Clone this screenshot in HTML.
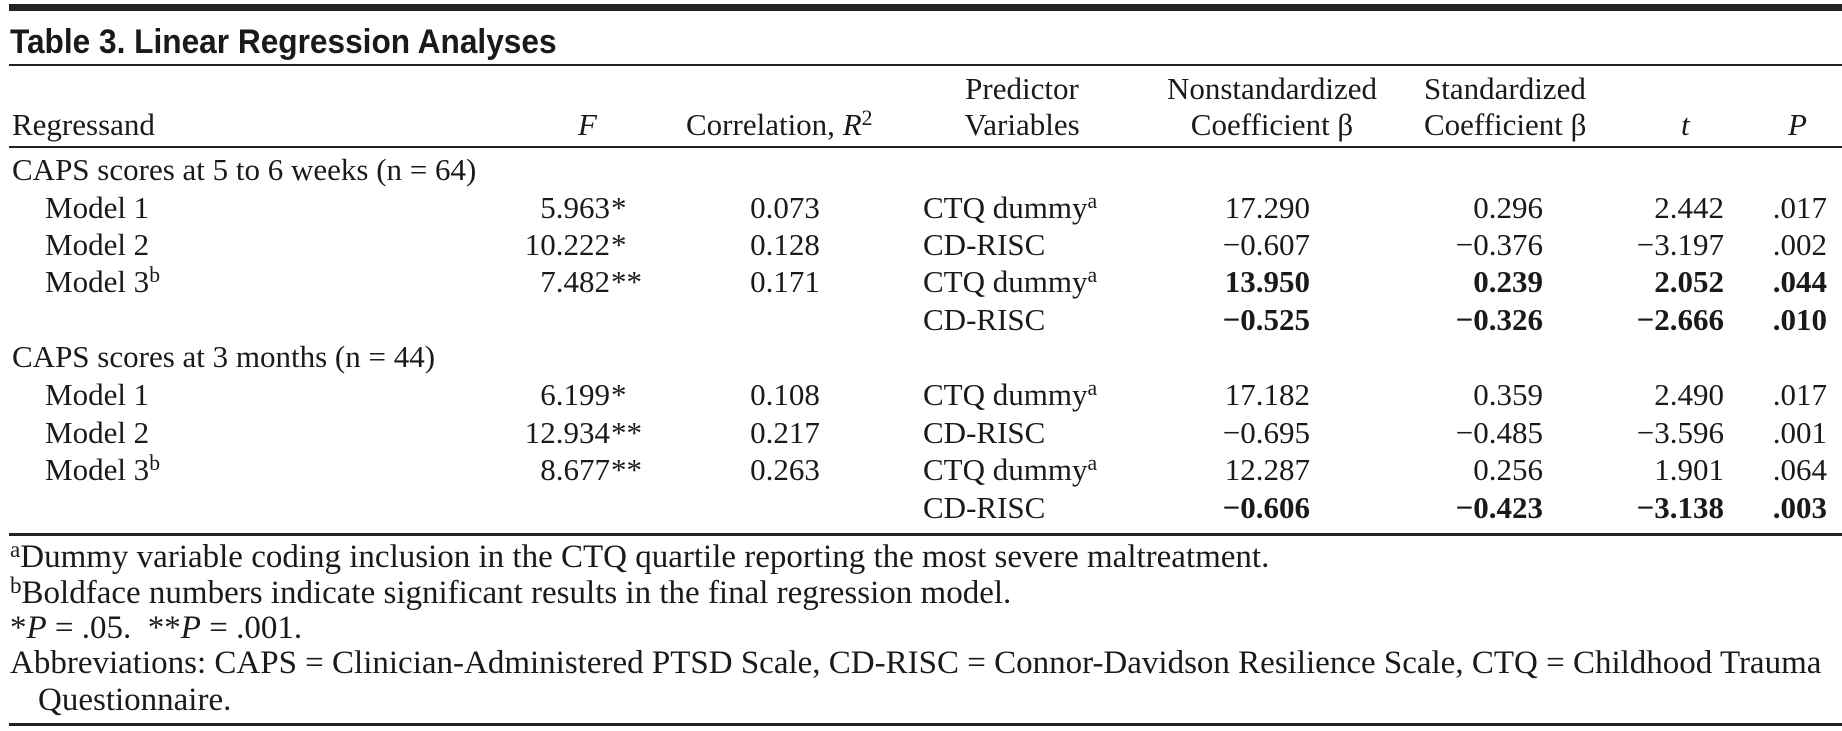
<!DOCTYPE html>
<html><head><meta charset="utf-8"><style>
html,body{margin:0;padding:0;background:#fff;}
body{width:1842px;height:731px;position:relative;overflow:hidden;font-family:"Liberation Serif",serif;font-size:31px;color:#1a1a1a;}
.t{position:absolute;line-height:0;white-space:nowrap;}
.r{text-align:right;}
.c{text-align:center;}
.b{font-weight:bold;}
.rule{position:absolute;left:9px;right:0;background:#222;}
sup{font-size:0.7em;vertical-align:0;position:relative;top:-0.45em;}
.title{font-family:"Liberation Sans",sans-serif;font-weight:bold;font-size:34px;transform:scaleX(0.93);transform-origin:left center;}
.fn{font-size:33px;}
</style></head><body>
<div class="rule" style="top:4px;height:7px;"></div>
<div class="t title" style="left:10px;top:42px;">Table 3. Linear Regression Analyses</div>
<div class="rule" style="top:64px;height:2px;"></div>

<div class="t" style="left:12px;top:125px;">Regressand</div>
<div class="t" style="left:578px;top:125px;font-style:italic;">F</div>
<div class="t" style="left:686px;top:125px;">Correlation, <i>R</i><sup>2</sup></div>
<div class="t c" style="left:962px;width:120px;top:89px;">Predictor</div>
<div class="t c" style="left:962px;width:120px;top:125px;">Variables</div>
<div class="t c" style="left:1152px;width:240px;top:89px;">Nonstandardized</div>
<div class="t c" style="left:1152px;width:240px;top:125px;">Coefficient β</div>
<div class="t" style="left:1424px;top:89px;">Standardized</div>
<div class="t" style="left:1424px;top:125px;">Coefficient β</div>
<div class="t" style="left:1681px;top:125px;font-style:italic;">t</div>
<div class="t" style="left:1788px;top:125px;font-style:italic;">P</div>
<div class="rule" style="top:146px;height:2px;"></div>

<div class="t" style="left:12px;top:170px;">CAPS scores at 5 to 6 weeks (n = 64)</div>

<div class="t" style="left:45px;top:208px;">Model 1</div>
<div class="t" style="left:45px;top:245px;">Model 2</div>
<div class="t" style="left:45px;top:282px;">Model 3<sup>b</sup></div>
<div class="t r" style="right:1232px;top:208px;">5.963</div><div class="t" style="left:611px;top:208px;">*</div>
<div class="t r" style="right:1232px;top:245px;">10.222</div><div class="t" style="left:611px;top:245px;">*</div>
<div class="t r" style="right:1232px;top:282px;">7.482</div><div class="t" style="left:611px;top:282px;">**</div>
<div class="t c" style="left:735px;width:100px;top:208px;">0.073</div>
<div class="t c" style="left:735px;width:100px;top:245px;">0.128</div>
<div class="t c" style="left:735px;width:100px;top:282px;">0.171</div>
<div class="t" style="left:923px;top:208px;">CTQ dummy<sup>a</sup></div>
<div class="t" style="left:923px;top:245px;">CD-RISC</div>
<div class="t" style="left:923px;top:282px;">CTQ dummy<sup>a</sup></div>
<div class="t" style="left:923px;top:320px;">CD-RISC</div>
<div class="t r" style="right:532px;top:208px;">17.290</div>
<div class="t r" style="right:532px;top:245px;">−0.607</div>
<div class="t r b" style="right:532px;top:282px;">13.950</div>
<div class="t r b" style="right:532px;top:320px;">−0.525</div>
<div class="t r" style="right:299px;top:208px;">0.296</div>
<div class="t r" style="right:299px;top:245px;">−0.376</div>
<div class="t r b" style="right:299px;top:282px;">0.239</div>
<div class="t r b" style="right:299px;top:320px;">−0.326</div>
<div class="t r" style="right:118px;top:208px;">2.442</div>
<div class="t r" style="right:118px;top:245px;">−3.197</div>
<div class="t r b" style="right:118px;top:282px;">2.052</div>
<div class="t r b" style="right:118px;top:320px;">−2.666</div>
<div class="t r" style="right:15px;top:208px;">.017</div>
<div class="t r" style="right:15px;top:245px;">.002</div>
<div class="t r b" style="right:15px;top:282px;">.044</div>
<div class="t r b" style="right:15px;top:320px;">.010</div>

<div class="t" style="left:12px;top:357px;">CAPS scores at 3 months (n = 44)</div>

<div class="t" style="left:45px;top:395px;">Model 1</div>
<div class="t" style="left:45px;top:433px;">Model 2</div>
<div class="t" style="left:45px;top:470px;">Model 3<sup>b</sup></div>
<div class="t r" style="right:1232px;top:395px;">6.199</div><div class="t" style="left:611px;top:395px;">*</div>
<div class="t r" style="right:1232px;top:433px;">12.934</div><div class="t" style="left:611px;top:433px;">**</div>
<div class="t r" style="right:1232px;top:470px;">8.677</div><div class="t" style="left:611px;top:470px;">**</div>
<div class="t c" style="left:735px;width:100px;top:395px;">0.108</div>
<div class="t c" style="left:735px;width:100px;top:433px;">0.217</div>
<div class="t c" style="left:735px;width:100px;top:470px;">0.263</div>
<div class="t" style="left:923px;top:395px;">CTQ dummy<sup>a</sup></div>
<div class="t" style="left:923px;top:433px;">CD-RISC</div>
<div class="t" style="left:923px;top:470px;">CTQ dummy<sup>a</sup></div>
<div class="t" style="left:923px;top:508px;">CD-RISC</div>
<div class="t r" style="right:532px;top:395px;">17.182</div>
<div class="t r" style="right:532px;top:433px;">−0.695</div>
<div class="t r" style="right:532px;top:470px;">12.287</div>
<div class="t r b" style="right:532px;top:508px;">−0.606</div>
<div class="t r" style="right:299px;top:395px;">0.359</div>
<div class="t r" style="right:299px;top:433px;">−0.485</div>
<div class="t r" style="right:299px;top:470px;">0.256</div>
<div class="t r b" style="right:299px;top:508px;">−0.423</div>
<div class="t r" style="right:118px;top:395px;">2.490</div>
<div class="t r" style="right:118px;top:433px;">−3.596</div>
<div class="t r" style="right:118px;top:470px;">1.901</div>
<div class="t r b" style="right:118px;top:508px;">−3.138</div>
<div class="t r" style="right:15px;top:395px;">.017</div>
<div class="t r" style="right:15px;top:433px;">.001</div>
<div class="t r" style="right:15px;top:470px;">.064</div>
<div class="t r b" style="right:15px;top:508px;">.003</div>

<div class="rule" style="top:533px;height:3px;"></div>

<div class="t fn" style="left:10px;top:557px;"><sup>a</sup>Dummy variable coding inclusion in the CTQ quartile reporting the most severe maltreatment.</div>
<div class="t fn" style="left:10px;top:593px;"><sup>b</sup>Boldface numbers indicate significant results in the final regression model.</div>
<div class="t fn" style="left:10px;top:628px;">*<i>P</i> = .05.&nbsp; **<i>P</i> = .001.</div>
<div class="t fn" style="left:10px;top:663px;">Abbreviations: CAPS = Clinician-Administered PTSD Scale, CD-RISC = Connor-Davidson Resilience Scale, CTQ = Childhood Trauma</div>
<div class="t fn" style="left:38px;top:700px;">Questionnaire.</div>

<div class="rule" style="top:723px;height:3px;"></div>
</body></html>
